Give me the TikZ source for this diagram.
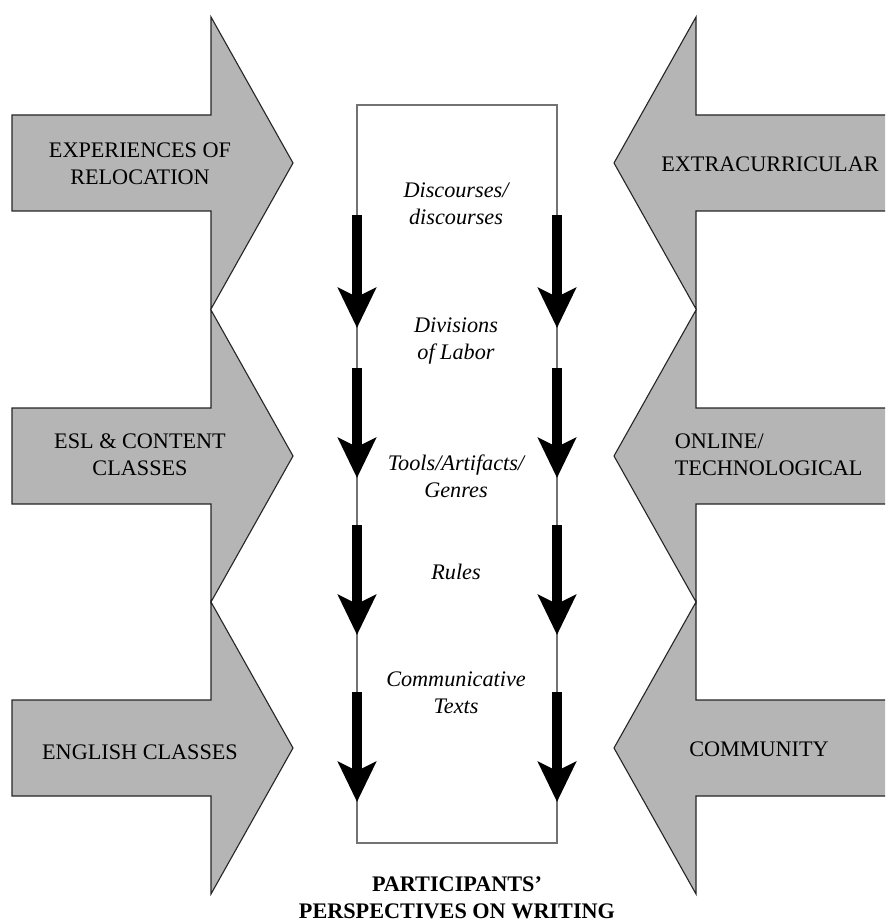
\documentclass[tikz,border=0pt]{standalone}
\usepackage{fontspec}
\setmainfont{Liberation Serif}
\usetikzlibrary{arrows.meta}
\definecolor{shaftgray}{RGB}{181,181,181}

\begin{document}
\begin{tikzpicture}[x=0.45pt, y=-0.45pt,
  bigarrow/.style={fill=shaftgray, draw=black!85, line width=0.5pt, line join=miter},
  boxline/.style={draw=black!55, line width=0.7pt},
  flow/.style={line width=4.5pt, -{Stealth[length=18pt, width=17pt, inset=4pt]}},
  srctext/.style={font=\fontsize{10}{12}\selectfont, align=center},
  facet/.style={font=\fontsize{10}{12}\selectfont\itshape, align=center},
  titletext/.style={font=\fontsize{10}{12}\selectfont\bfseries, align=center}]
\clip (0,0) rectangle (885,924);

%sources on the left
\foreach \y in {163,456,748}
  \draw[bigarrow] (12,\y-48) -- (211,\y-48) -- (211,\y-146) -- (293,\y)
    -- (211,\y+146) -- (211,\y+48) -- (12,\y+48) -- cycle;

%sources on the right
\foreach \y in {163,456,748}
  \draw[bigarrow] (895,\y-48) -- (696,\y-48) -- (696,\y-146) -- (614,\y)
    -- (696,\y+146) -- (696,\y+48) -- (895,\y+48) -- cycle;

\node[srctext] (reloc) at (140,164) {EXPERIENCES OF\\RELOCATION};
\node[srctext] (esl) at (140,455) {ESL \& CONTENT\\CLASSES};
\node[srctext] (english) at (140,752) {ENGLISH CLASSES};
\node[srctext] (extra) at (770,164) {EXTRACURRICULAR};
\node[srctext, align=left, anchor=west] (online) at (667,455) {ONLINE/\\TECHNOLOGICAL};
\node[srctext] (community) at (759,749) {COMMUNITY};

%box
\draw[boxline] (357,105) rectangle (557,843);

%flows down the box
\foreach \s/\e [count=\i] in {215/328,368/478,525/635,692/802} {
  \coordinate (ls\i) at (357,\s);
  \coordinate (le\i) at (357,\e);
  \coordinate (rs\i) at (557,\s);
  \coordinate (re\i) at (557,\e);
  \draw[flow] (ls\i) -- (le\i);
  \draw[flow] (rs\i) -- (re\i);
}

%facets
\node[facet] (disc) at (456,204) {Discourses/\\discourses};
\node[facet] (div) at (456,341) {Divisions\\of Labor};
\node[facet] (tools) at (456,476) {Tools/Artifacts/\\Genres};
\node[facet] (rules) at (456,572) {Rules};
\node[facet] (texts) at (456,693) {Communicative\\Texts};

%title
\node[titletext] (persp) at (457,898) {PARTICIPANTS’\\PERSPECTIVES ON WRITING};
\end{tikzpicture}
\end{document}
